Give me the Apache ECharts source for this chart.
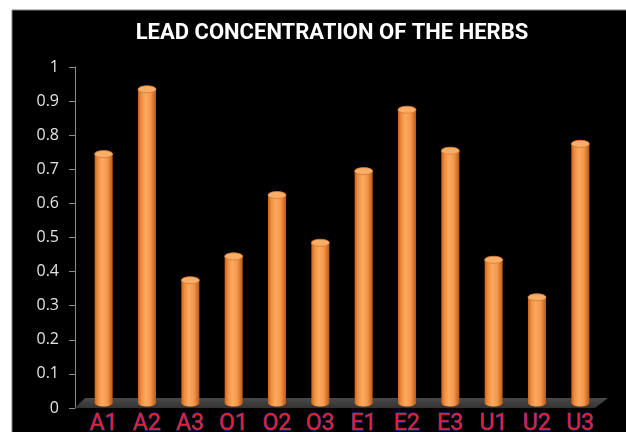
<!DOCTYPE html>
<html>
<head>
<meta charset="utf-8">
<script src="https://cdn.jsdelivr.net/npm/echarts@6/dist/echarts.min.js"></script>
<style>
  html, body { margin: 0; padding: 0; background: #ffffff; }
  #chart { width: 626px; height: 432px; }
</style>
</head>
<body>
<div id="chart"></div>
<script>
const titleText = 'LEAD CONCENTRATION OF THE HERBS';
const categories = ['A1', 'A2', 'A3', 'O1', 'O2', 'O3', 'E1', 'E2', 'E3', 'U1', 'U2', 'U3'];
const leadValues = [0.73, 0.92, 0.36, 0.43, 0.61, 0.47, 0.68, 0.86, 0.74, 0.42, 0.31, 0.76];
const yMin = 0;
const yMax = 1;
const yInterval = 0.1;

const chart = echarts.init(document.getElementById('chart'), null, { renderer: 'canvas' });

function barGradient() {
  return new echarts.graphic.LinearGradient(0, 0, 1, 0, [
    { offset: 0, color: '#c8641e' },
    { offset: 0.18, color: '#ee8e3e' },
    { offset: 0.42, color: '#fbaa62' },
    { offset: 0.7, color: '#f5974a' },
    { offset: 1, color: '#b85a18' }
  ]);
}

const option = {
  backgroundColor: '#ffffff',
  animation: false,
  graphic: [
    {
      type: 'rect', z: -10, silent: true,
      shape: { x: 12, y: 10, width: 626, height: 432 },
      style: { fill: '#000000', stroke: '#7f7f7f', lineWidth: 1 }
    },
    {
      type: 'text', z: 10, silent: true,
      x: 332, y: 22,
      style: {
        text: titleText,
        fill: '#ffffff',
        font: 'bold 22px Roboto',
        textAlign: 'center',
        textVerticalAlign: 'top'
      }
    }
  ],
  grid: { left: 82, right: 24, top: 67, bottom: 24, containLabel: false, outerBoundsMode: 'none' },
  xAxis: {
    type: 'category',
    data: categories,
    axisLine: { show: false },
    axisTick: { show: false },
    axisLabel: {
      color: '#ee1c2e',
      fontSize: 23,
      fontFamily: 'Roboto',
      margin: 5,
      textBorderColor: '#2a3ea8',
      textBorderWidth: 0.9,
      interval: 0
    },
    splitLine: { show: false }
  },
  yAxis: {
    type: 'value',
    min: yMin, max: yMax, interval: yInterval,
    offset: 7,
    axisLine: { show: true, lineStyle: { color: '#8c8c8c', width: 1 } },
    axisTick: { show: true, length: 6, lineStyle: { color: '#8c8c8c' } },
    axisLabel: { color: '#e3e3e3', fontSize: 16, fontFamily: 'Open Sans', margin: 16 },
    splitLine: { show: false }
  },
  series: [
    {
      type: 'custom',
      z: 1,
      silent: true,
      data: [[0, 0]],
      encode: { x: 0, y: 1 },
      renderItem: function (params, api) {
        const cs = params.coordSys;
        const yb = cs.y + cs.height;
        return {
          type: 'polygon',
          shape: {
            points: [
              [cs.x - 7, yb],
              [cs.x + cs.width - 7, yb],
              [cs.x + cs.width + 6, yb - 10],
              [cs.x + 3, yb - 10]
            ]
          },
          style: {
            fill: new echarts.graphic.LinearGradient(0, 0, 0, 1, [
              { offset: 0, color: '#4a4a4a' },
              { offset: 1, color: '#333333' }
            ])
          }
        };
      }
    },
    {
      type: 'custom',
      z: 3,
      silent: true,
      data: leadValues.map(function (v, i) { return [i, v]; }),
      encode: { x: 0, y: 1 },
      renderItem: function (params, api) {
        const i = api.value(0);
        const v = api.value(1);
        const pTop = api.coord([i, v]);
        const pBase = api.coord([i, 0]);
        const w = 18, dy = -5, ry = 3.5;
        const cx = pTop[0];
        const yTop = pTop[1] + dy;
        const yBot = pBase[1] + dy;
        return {
          type: 'group',
          children: [
            { type: 'ellipse', shape: { cx: cx, cy: yBot, rx: w / 2, ry: ry }, style: { fill: barGradient() } },
            { type: 'rect', shape: { x: cx - w / 2, y: yTop, width: w, height: yBot - yTop }, style: { fill: barGradient() } },
            { type: 'ellipse', shape: { cx: cx, cy: yTop, rx: w / 2, ry: ry }, style: { fill: '#f9ae68', stroke: '#d9782e', lineWidth: 0.8 } }
          ]
        };
      }
    }
  ]
};

chart.setOption(option);
</script>
</body>
</html>
